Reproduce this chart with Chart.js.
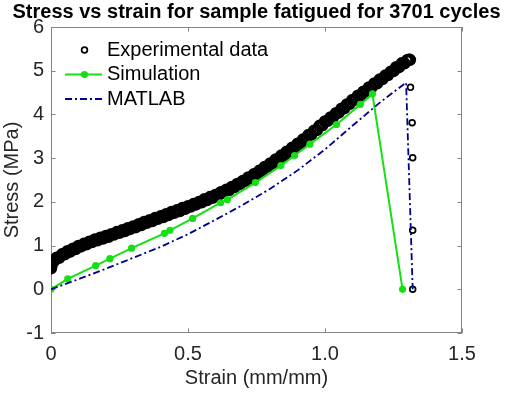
<!DOCTYPE html>
<html>
<head>
<meta charset="utf-8">
<script src="https://cdn.jsdelivr.net/npm/chart.js@4.4.1/dist/chart.umd.min.js"></script>
<style>
  html, body { margin: 0; padding: 0; background: #fff; }
</style>
</head>
<body>
<canvas id="stressChart" width="505" height="393"></canvas>
<script>
const expStrain = [
  0.000, 0.002, 0.004,
  0.00, 0.01, 0.02, 0.03, 0.04, 0.05, 0.06, 0.07, 0.08, 0.09,
  0.10, 0.11, 0.12, 0.13, 0.14, 0.15, 0.16, 0.17, 0.18, 0.19,
  0.20, 0.21, 0.22, 0.23, 0.24, 0.25, 0.26, 0.27, 0.28, 0.29,
  0.30, 0.31, 0.32, 0.33, 0.34, 0.35, 0.36, 0.37, 0.38, 0.39,
  0.40, 0.41, 0.42, 0.43, 0.44, 0.45, 0.46, 0.47, 0.48, 0.49,
  0.50, 0.51, 0.52, 0.53, 0.54, 0.55, 0.56, 0.57, 0.58, 0.59,
  0.60, 0.61, 0.62, 0.63, 0.64, 0.65, 0.66, 0.67, 0.68, 0.69,
  0.70, 0.71, 0.72, 0.73, 0.74, 0.75, 0.76, 0.77, 0.78, 0.79,
  0.80, 0.81, 0.82, 0.83, 0.84, 0.85, 0.86, 0.87, 0.88, 0.89,
  0.90, 0.91, 0.92, 0.93, 0.94, 0.95, 0.96, 0.97, 0.98, 0.99,
  1.00, 1.01, 1.02, 1.03, 1.04, 1.05, 1.06, 1.07, 1.08, 1.09,
  1.10, 1.11, 1.12, 1.13, 1.14, 1.15, 1.16, 1.17, 1.18, 1.19,
  1.20, 1.21, 1.22, 1.23, 1.24, 1.25, 1.26, 1.27, 1.28, 1.29,
  1.30, 1.305, 1.31,
  1.312, 1.318, 1.320, 1.320, 1.320
];
const expStress = [
  0.48, 0.55, 0.60,
  0.64, 0.64, 0.72, 0.72, 0.80, 0.80, 0.87, 0.86, 0.93, 0.92,
  0.99, 0.98, 1.04, 1.03, 1.09, 1.08, 1.14, 1.12, 1.18, 1.16,
  1.22, 1.20, 1.26, 1.25, 1.31, 1.29, 1.35, 1.33, 1.40, 1.38,
  1.44, 1.42, 1.49, 1.47, 1.54, 1.52, 1.58, 1.56, 1.63, 1.61,
  1.67, 1.65, 1.72, 1.70, 1.77, 1.75, 1.81, 1.79, 1.86, 1.84,
  1.90, 1.89, 1.95, 1.94, 2.00, 1.99, 2.06, 2.04, 2.11, 2.09,
  2.16, 2.15, 2.22, 2.21, 2.28, 2.27, 2.34, 2.34, 2.41, 2.41,
  2.48, 2.48, 2.56, 2.55, 2.63, 2.63, 2.71, 2.71, 2.80, 2.80,
  2.88, 2.88, 2.97, 2.97, 3.06, 3.06, 3.15, 3.15, 3.24, 3.24,
  3.33, 3.34, 3.43, 3.44, 3.53, 3.54, 3.63, 3.64, 3.74, 3.75,
  3.84, 3.85, 3.93, 3.94, 4.03, 4.04, 4.13, 4.14, 4.23, 4.24,
  4.33, 4.34, 4.43, 4.43, 4.52, 4.53, 4.62, 4.62, 4.71, 4.71,
  4.80, 4.81, 4.89, 4.90, 4.98, 4.99, 5.08, 5.08, 5.17, 5.17,
  5.24, 5.25, 5.25,
  4.62, 3.81, 3.01, 1.35, 0.00
];
// the last five points are the drop after failure
const dropCount = 5;

// Simulation
const simStrain = [0, 0.061, 0.163, 0.215, 0.294, 0.414, 0.434, 0.517, 0.619, 0.644,
                   0.746, 0.839, 0.889, 0.945, 1.042, 1.129, 1.173, 1.283];
const simStress = [0, 0.24, 0.54, 0.70, 0.94, 1.28, 1.35, 1.62, 1.98, 2.05,
                   2.44, 2.83, 3.06, 3.32, 3.77, 4.23, 4.47, 0];

// MATLAB fit
const matStrain = [0, 0.1, 0.2, 0.3, 0.4, 0.5, 0.6, 0.7, 0.8, 0.9, 1.0, 1.1, 1.2, 1.296, 1.32];
const matStress = [0, 0.23, 0.47, 0.72, 0.97, 1.26, 1.59, 1.93, 2.30, 2.72, 3.20, 3.74, 4.27, 4.73, 0];

const xTicks = [0, 0.5, 1, 1.5];
const yTicks = [-1, 0, 1, 2, 3, 4, 5, 6];
const seriesNames = ["Experimental data", "Simulation", "MATLAB"];

const FONT = "'Liberation Sans', Arial, sans-serif";
Chart.defaults.font.family = FONT;

const toPoints = (xs, ys) => xs.map((x, i) => ({ x, y: ys[i] }));
const bandEnd = expStrain.length - dropCount;

// box around the axes + inward tick marks (MATLAB style)
const frame = {
  id: "frame",
  beforeDatasetsDraw(chart) {
    const { ctx, chartArea: a, scales: { x, y } } = chart;
    const tl = 4.5;
    ctx.save();
    ctx.strokeStyle = "#858585";
    ctx.lineWidth = 1;
    ctx.strokeRect(a.left + 0.5, a.top + 0.5, a.width - 1, a.height - 1);
    ctx.beginPath();
    xTicks.forEach(v => {
      const px = Math.round(x.getPixelForValue(v)) + 0.5;
      ctx.moveTo(px, a.bottom); ctx.lineTo(px, a.bottom - tl);
      ctx.moveTo(px, a.top); ctx.lineTo(px, a.top + tl);
    });
    yTicks.forEach(v => {
      const py = Math.round(y.getPixelForValue(v)) + 0.5;
      ctx.moveTo(a.left, py); ctx.lineTo(a.left + tl, py);
      ctx.moveTo(a.right, py); ctx.lineTo(a.right - tl, py);
    });
    ctx.stroke();
    ctx.restore();
  }
};

// legend inside the axes, top left, no box
const insideLegend = {
  id: "insideLegend",
  afterDraw(chart) {
    const { ctx, chartArea: a } = chart;
    const x0 = a.left + 14, x1 = a.left + 51, xm = a.left + 33.5, tx = a.left + 56;
    const rows = [a.top + 23, a.top + 47.5, a.top + 72];
    ctx.save();
    // experimental: open circle
    ctx.strokeStyle = "#000";
    ctx.lineWidth = 1.7;
    ctx.beginPath();
    ctx.arc(xm, rows[0], 2.9, 0, Math.PI * 2);
    ctx.stroke();
    // simulation: line + dot
    ctx.strokeStyle = "#14e014";
    ctx.lineWidth = 2;
    ctx.beginPath();
    ctx.moveTo(x0, rows[1]); ctx.lineTo(x1, rows[1]);
    ctx.stroke();
    ctx.fillStyle = "#14e014";
    ctx.beginPath();
    ctx.arc(xm, rows[1], 3.6, 0, Math.PI * 2);
    ctx.fill();
    // matlab: dash-dot
    ctx.strokeStyle = "#00008f";
    ctx.lineWidth = 1.8;
    ctx.setLineDash([7, 3, 2, 3]);
    ctx.beginPath();
    ctx.moveTo(x0, rows[2]); ctx.lineTo(x1, rows[2]);
    ctx.stroke();
    ctx.setLineDash([]);
    ctx.fillStyle = "#000";
    ctx.font = "20px " + FONT;
    ctx.textBaseline = "middle";
    ctx.textAlign = "left";
    seriesNames.forEach((n, i) => ctx.fillText(n, tx, rows[i]));
    ctx.restore();
  }
};

const ctx = document.getElementById("stressChart").getContext("2d");
new Chart(ctx, {
  type: "scatter",
  data: {
    datasets: [
      {
        label: seriesNames[0],
        data: toPoints(expStrain, expStress),
        showLine: false,
        pointStyle: "circle",
        pointRadius: c => (c.dataIndex < bandEnd ? 4.6 : 2.9),
        pointBorderWidth: c => (c.dataIndex < bandEnd ? 3.2 : 1.7),
        pointBorderColor: "#000",
        pointBackgroundColor: "rgba(0,0,0,0)",
        order: 2
      },
      {
        label: seriesNames[1],
        data: toPoints(simStrain, simStress),
        showLine: true,
        borderColor: "#14e014",
        borderWidth: 2,
        pointRadius: 3.6,
        pointBorderWidth: 0,
        pointBackgroundColor: "#14e014",
        order: 1
      },
      {
        label: seriesNames[2],
        data: toPoints(matStrain, matStress),
        showLine: true,
        borderColor: "#00008f",
        borderWidth: 1.8,
        borderDash: [7, 3, 2, 3],
        pointRadius: 0,
        order: 0
      }
    ]
  },
  options: {
    responsive: false,
    animation: false,
    devicePixelRatio: 1,
    layout: { padding: { left: 8, right: 0, top: 0, bottom: 0 } },
    plugins: {
      legend: { display: false },
      tooltip: { enabled: false },
      title: {
        display: true,
        text: "Stress vs strain for sample fatigued for 3701 cycles",
        color: "#000",
        font: { size: 20, weight: "bold" },
        padding: { top: 0, bottom: 3 }
      }
    },
    scales: {
      x: {
        type: "linear",
        min: 0,
        max: 1.5,
        afterBuildTicks: s => { s.ticks = xTicks.map(v => ({ value: v })); },
        grid: { display: false, drawTicks: false },
        border: { display: false },
        ticks: { color: "#262626", font: { size: 20 }, padding: 9, maxRotation: 0 },
        title: {
          display: true, text: "Strain (mm/mm)", color: "#262626",
          font: { size: 20 }, padding: { top: 0, bottom: 3 }
        },
        afterFit: s => { s.height = 60; }
      },
      y: {
        type: "linear",
        min: -1,
        max: 6,
        afterBuildTicks: s => { s.ticks = yTicks.map(v => ({ value: v })); },
        grid: { display: false, drawTicks: false },
        border: { display: false },
        ticks: { color: "#262626", font: { size: 20 }, padding: 7 },
        title: {
          display: true, text: "Stress (MPa)", color: "#262626",
          font: { size: 20 }, padding: { top: -8, bottom: 0 }
        },
        afterFit: s => { s.width = 43; }
      },
      y2: {
        type: "linear",
        position: "right",
        min: -1,
        max: 6,
        grid: { display: false, drawTicks: false },
        border: { display: false },
        ticks: { display: false },
        afterFit: s => { s.width = 43; }
      }
    }
  },
  plugins: [frame, insideLegend]
});
</script>
</body>
</html>
